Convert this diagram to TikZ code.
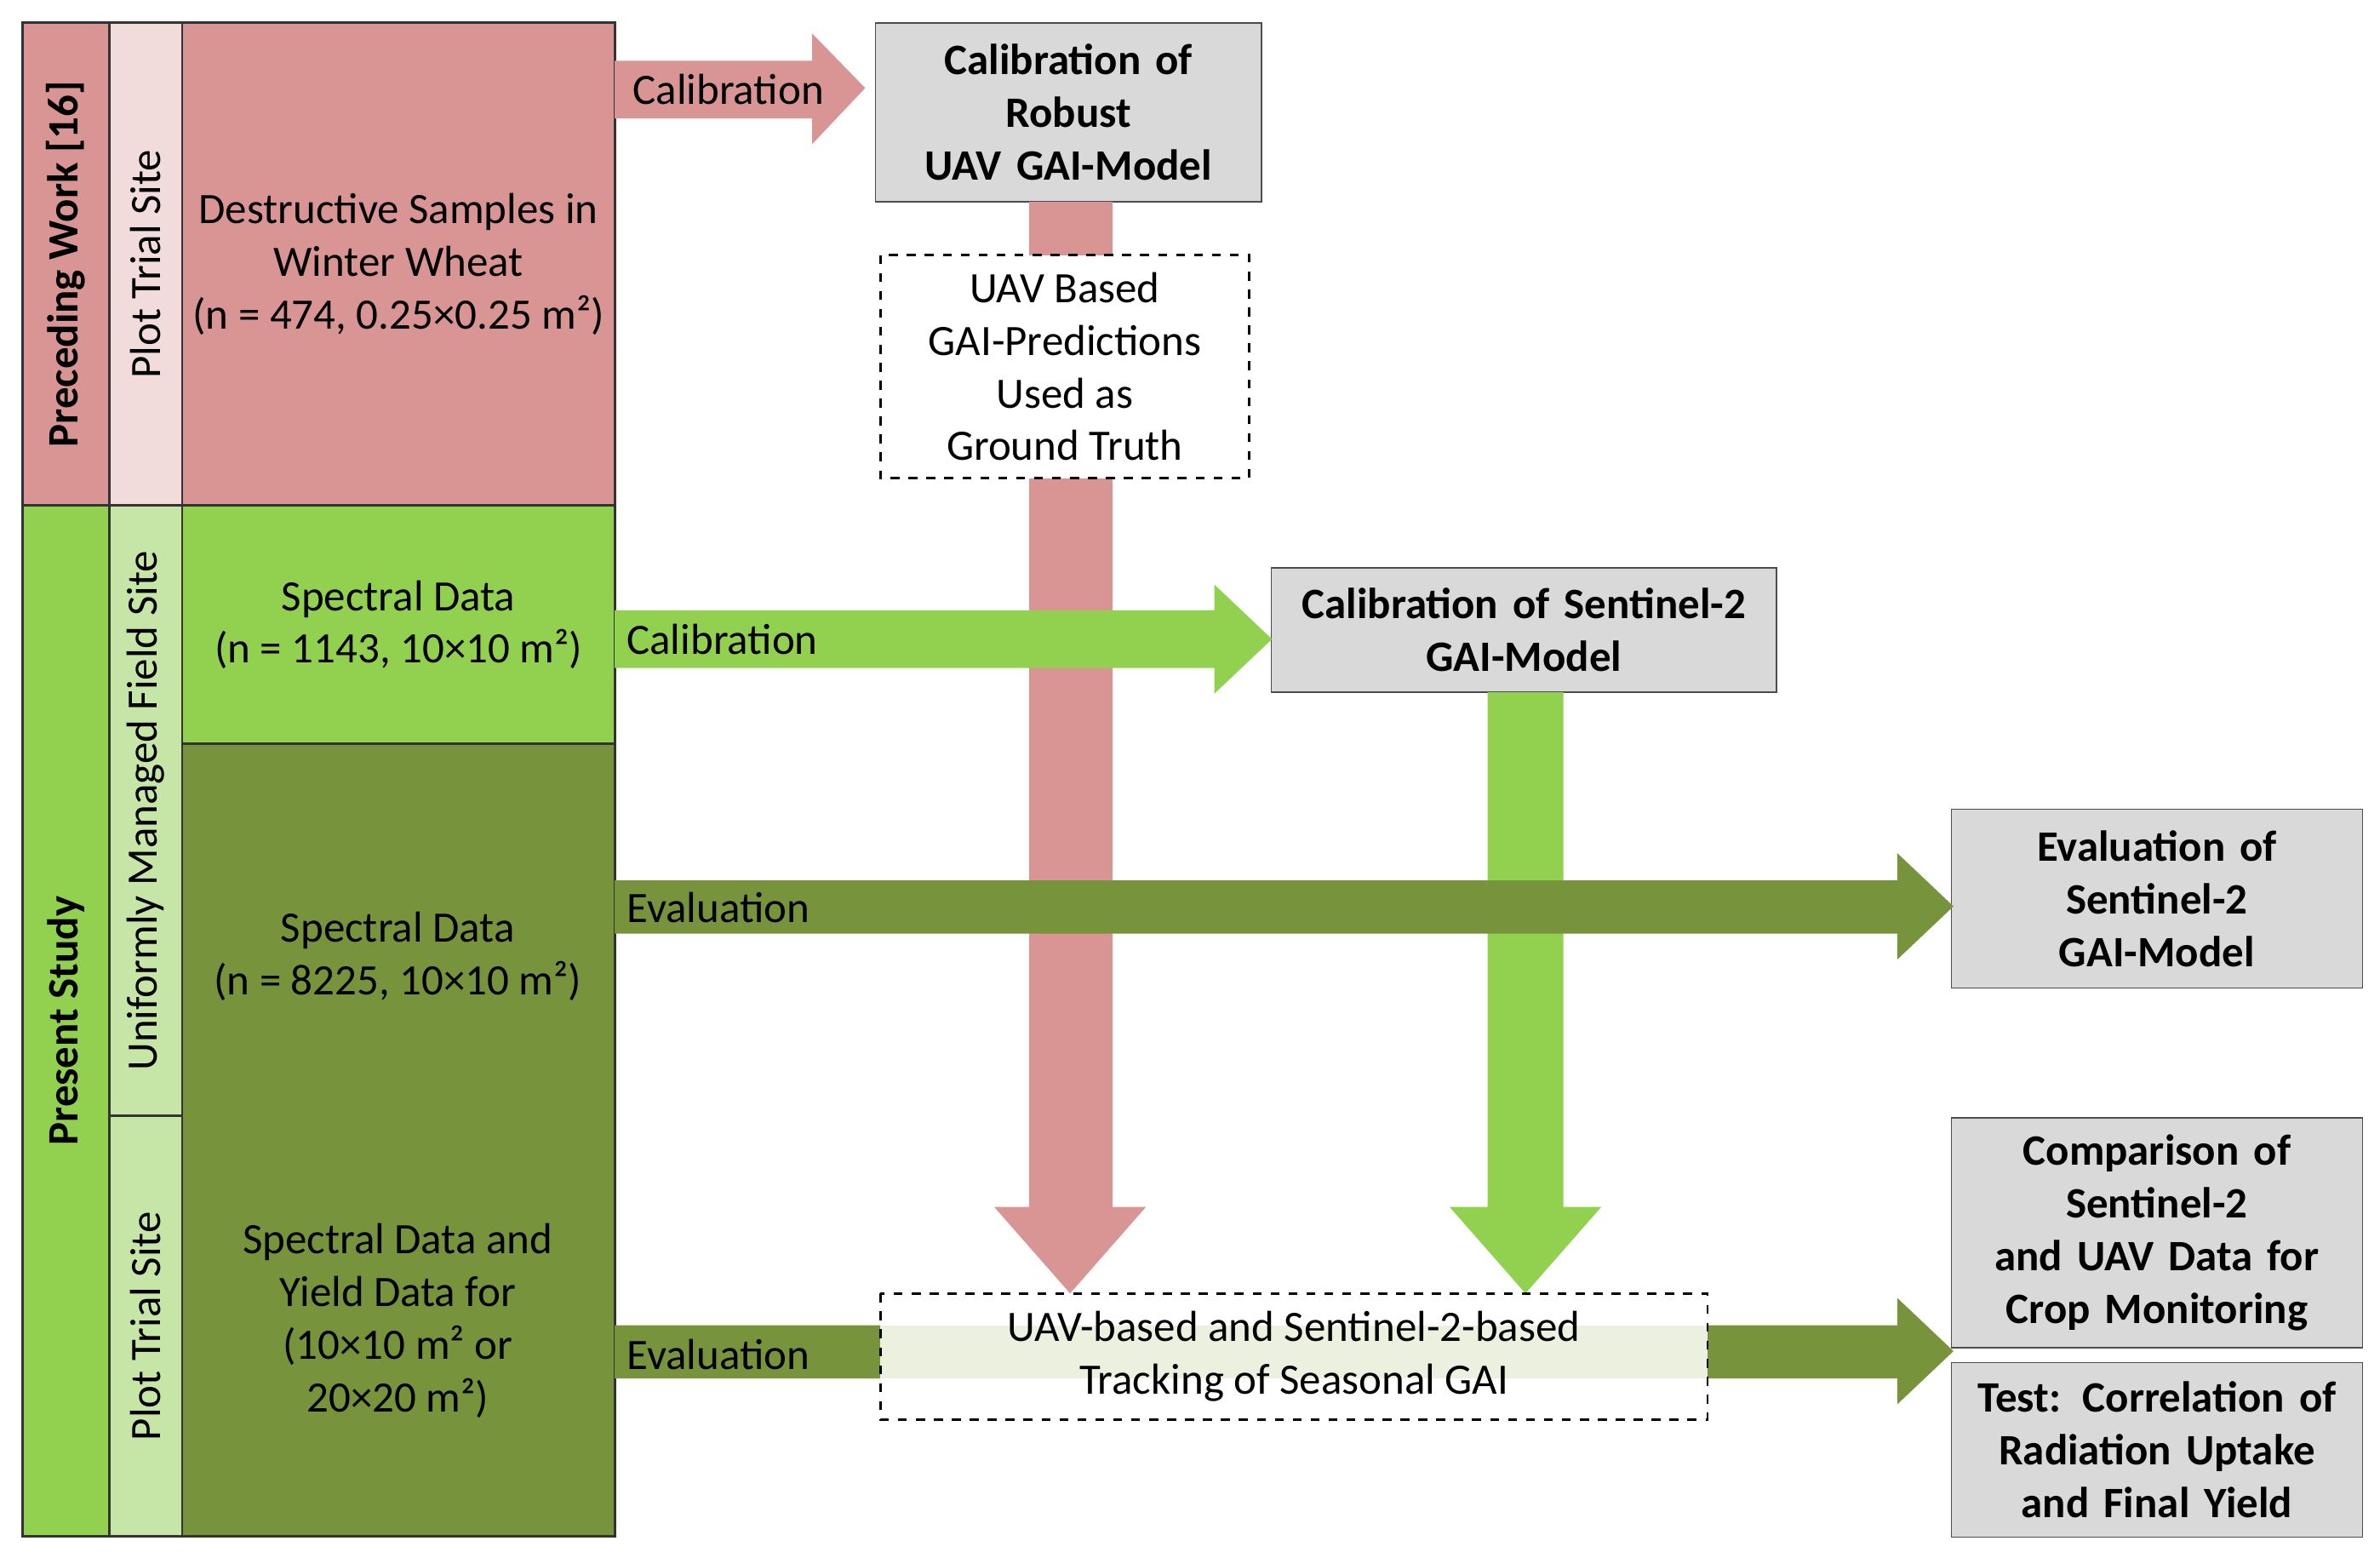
\documentclass[tikz,border=0pt]{standalone}
\usepackage{fontspec}
\setmainfont{Carlito}
\usetikzlibrary{positioning, calc}
\definecolor{kpink}{HTML}{D99594}
\definecolor{klpink}{HTML}{F2DCDB}
\definecolor{kgreen}{HTML}{92D050}
\definecolor{klgreen}{HTML}{C6E6A8}
\definecolor{kdgreen}{HTML}{77933C}
\definecolor{kgrey}{HTML}{D9D9D9}
\definecolor{kpale}{HTML}{EBF1DE}
\begin{document}
\begin{tikzpicture}[x=0.01783cm, y=-0.01783cm,
    every node/.style={font=\fontsize{14.5}{17.6}\selectfont, align=center},
    cell/.style={draw=black!80, thick, inner sep=0pt},
    result/.style={draw=black!70, fill=kgrey, font=\fontsize{14.5}{17.6}\selectfont\bfseries, align=center},
    dashbox/.style={draw, dashed, thick}]
    \useasboundingbox (0,0) rectangle (1568,1026);

    % left columns
    \draw[cell, fill=kpink] (15,15) rectangle (72,333) node[midway, rotate=90, font=\fontsize{14.5}{17.6}\selectfont\bfseries] (prec) {Preceding Work [16]};
    \draw[cell, fill=kgreen] (15,333) rectangle (72,1012) node[midway, rotate=90, font=\fontsize{14.5}{17.6}\selectfont\bfseries] (pres) {Present Study};
    \draw[cell, fill=klpink] (72,15) rectangle (120,333) node[midway, rotate=90] (plotA) {Plot Trial Site};
    \draw[cell, fill=klgreen] (72,333) rectangle (120,735) node[midway, rotate=90] (field) {Uniformly Managed Field Site};
    \draw[cell, fill=klgreen] (72,735) rectangle (120,1012) node[midway, rotate=90] (plotB) {Plot Trial Site};
    \draw[cell, fill=kpink] (120,15) rectangle (405,333) node[midway] (destr) {Destructive Samples in\\Winter Wheat\\(n = 474, 0.25×0.25 m²)};
    \draw[cell, fill=kgreen] (120,333) rectangle (405,490) node[midway] (specA) {Spectral Data\\(n = 1143, 10×10 m²)};
    \draw[cell, fill=kdgreen] (120,490) rectangle (405,1012);
    \node (specB) at (262,630) {Spectral Data\\(n = 8225, 10×10 m²)};
    \node (yield) at (262,870) {Spectral Data and\\Yield Data for\\(10×10 m² or\\20×20 m²)};

    % result boxes
    \node[result, minimum width=268\pgflinewidth, text width=4.3cm, minimum height=2.1cm] (robust) at (704,74) {Calibration of\\Robust\\UAV GAI-Model};
    \node[result, text width=5.7cm, minimum height=1.46cm] (senti) at (1004,415) {Calibration of Sentinel-2\\GAI-Model};
    \node[result, text width=4.6cm, minimum height=2.1cm] (evalS) at (1421,592) {Evaluation of\\Sentinel-2\\GAI-Model};
    \node[result, text width=4.6cm, minimum height=2.7cm] (comp) at (1421,812) {Comparison of\\Sentinel-2\\and UAV Data for\\Crop Monitoring};
    \node[result, text width=4.6cm, minimum height=2.05cm] (test) at (1421,955) {Test: Correlation of\\Radiation Uptake\\and Final Yield};

    % vertical arrows
    \fill[kpink] (678,133) -- (733,133) -- (733,795) -- (755,795) -- (705,852) -- (655,795) -- (678,795) -- cycle;
    \fill[kgreen] (980,456) -- (1030,456) -- (1030,795) -- (1055,795) -- (1005,852) -- (955,795) -- (980,795) -- cycle;

    % horizontal arrows
    \fill[kpink] (405,40) -- (535,40) -- (535,22) -- (570,58) -- (535,95) -- (535,78) -- (405,78) -- cycle;
    \node[anchor=west] at (410,59) {Calibration};
    \fill[kgreen] (405,402) -- (800,402) -- (800,385) -- (838,421) -- (800,457) -- (800,440) -- (405,440) -- cycle;
    \node[anchor=west] at (406,421) {Calibration};
    \fill[kdgreen] (405,580) -- (1250,580) -- (1250,562) -- (1287,597) -- (1250,632) -- (1250,615) -- (405,615) -- cycle;
    \node[anchor=west] at (406,598) {Evaluation};
    \fill[kdgreen] (405,873) -- (1250,873) -- (1250,855) -- (1287,890) -- (1250,925) -- (1250,908) -- (405,908) -- cycle;
    \node[anchor=west] at (406,892) {Evaluation};

    % dashed boxes
    \draw[dashbox, fill=white] (580,168) rectangle (823,315) node[midway] (truth) {UAV Based\\GAI-Predictions\\Used as\\Ground Truth};
    \fill[white] (580,852) rectangle (1125,935);
    \fill[kpale] (580,873) rectangle (1125,908);
    \draw[dashbox] (580,852) rectangle (1125,935) node[midway] (track) {UAV-based and Sentinel-2-based\\Tracking of Seasonal GAI};
\end{tikzpicture}
\end{document}
